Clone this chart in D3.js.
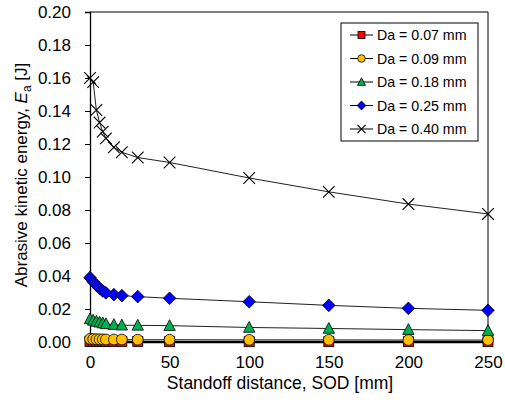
<!DOCTYPE html>
<html>
<head>
<meta charset="utf-8">
<script src="https://cdn.jsdelivr.net/npm/d3@7"></script>
<style>
html,body{margin:0;padding:0;background:#fff;}
svg{display:block;font-family:"Liberation Sans",Arial,sans-serif;}
</style>
</head>
<body>
<svg id="chart" width="505" height="403"></svg>
<script>
const sod = [0, 2, 4, 6, 8, 10, 15, 20, 30, 50, 100, 150, 200, 250];
const seriesNames = ["Da = 0.07 mm", "Da = 0.09 mm", "Da = 0.18 mm", "Da = 0.25 mm", "Da = 0.40 mm"];
const da007 = [0.0003, 0.0003, 0.0003, 0.0003, 0.0003, 0.0003, 0.0003, 0.0003, 0.0003, 0.0002, 0.0002, 0.0002, 0.0002, 0.0002];
const da009 = [0.0019, 0.0018, 0.0017, 0.0016, 0.0016, 0.0015, 0.0015, 0.0015, 0.0014, 0.0014, 0.0013, 0.0013, 0.0012, 0.0012];
const da018 = [0.0140, 0.0131, 0.0125, 0.0120, 0.0115, 0.0110, 0.0105, 0.0102, 0.0101, 0.0099, 0.0088, 0.0082, 0.0075, 0.0069];
const da025 = [0.0390, 0.0365, 0.0345, 0.0325, 0.0310, 0.0298, 0.0287, 0.0281, 0.0275, 0.0265, 0.0244, 0.0222, 0.0204, 0.0192];
const da040 = [0.1600, 0.1575, 0.1406, 0.1330, 0.1275, 0.1234, 0.1180, 0.1150, 0.1118, 0.1088, 0.0994, 0.0910, 0.0836, 0.0776];
const yTicks = [0.00, 0.02, 0.04, 0.06, 0.08, 0.10, 0.12, 0.14, 0.16, 0.18, 0.20];
const xTicks = [0, 50, 100, 150, 200, 250];

const seriesValues = [da007, da009, da018, da025, da040];
const fills = ["#FF0000", "#FFC000", "#00B050", "#0000FF", "none"];
const shapes = ["square", "circle", "triangle", "diamond", "x"];

const svg = d3.select("#chart");
const L = 90, R = 488, T = 12, B = 342;
const x = d3.scaleLinear().domain([0, 250]).range([L, R]);
const y = d3.scaleLinear().domain([0, 0.2]).range([B, T]);

// frame (top & right)
svg.append("line").attr("x1", L).attr("x2", R).attr("y1", T).attr("y2", T).attr("stroke", "#000").attr("stroke-width", 1);
svg.append("line").attr("x1", R).attr("x2", R).attr("y1", T).attr("y2", B).attr("stroke", "#000").attr("stroke-width", 1);

// y axis
const yAxis = d3.axisLeft(y).tickValues(yTicks).tickFormat(d3.format(".2f")).tickSize(5).tickPadding(14);
const gy = svg.append("g").attr("transform", `translate(${L},0)`).call(yAxis);
gy.select(".domain").attr("stroke", "#000").attr("stroke-width", 1.3);
gy.selectAll(".tick line").attr("stroke", "#000");
gy.selectAll("text").attr("font-size", 17).attr("fill", "#000").attr("font-family", "Liberation Sans, Arial, sans-serif");

// x axis
const xAxis = d3.axisBottom(x).tickValues(xTicks).tickFormat(d3.format("d")).tickSize(0).tickPadding(14);
const gx = svg.append("g").attr("transform", `translate(0,${B})`).call(xAxis);
gx.select(".domain").attr("stroke", "#000").attr("stroke-width", 1.3);
gx.selectAll("text").attr("font-size", 17).attr("fill", "#000").attr("font-family", "Liberation Sans, Arial, sans-serif");

// symbols
function drawMarker(g, shape, fill, cx, cy, scale) {
  const s = scale || 1;
  if (shape === "square") {
    const h = 5 * s;
    g.append("rect").attr("x", cx - h).attr("y", cy - h).attr("width", 2 * h).attr("height", 2 * h)
      .attr("fill", fill).attr("stroke", "#000").attr("stroke-width", 0.8);
  } else if (shape === "circle") {
    g.append("circle").attr("cx", cx).attr("cy", cy).attr("r", 5.4 * s)
      .attr("fill", fill).attr("stroke", "#000").attr("stroke-width", 0.8);
  } else if (shape === "triangle") {
    const h = 6 * s;
    g.append("path").attr("d", `M${cx},${cy - h}L${cx + h * 0.95},${cy + h * 0.8}L${cx - h * 0.95},${cy + h * 0.8}Z`)
      .attr("fill", fill).attr("stroke", "#000").attr("stroke-width", 0.8);
  } else if (shape === "diamond") {
    const h = 6.3 * s;
    g.append("path").attr("d", `M${cx},${cy - h}L${cx + h},${cy}L${cx},${cy + h}L${cx - h},${cy}Z`)
      .attr("fill", fill).attr("stroke", "#000").attr("stroke-width", 0.8);
  } else if (shape === "x") {
    const h = 5.8 * s;
    g.append("path").attr("d", `M${cx - h},${cy - h}L${cx + h},${cy + h}M${cx - h},${cy + h}L${cx + h},${cy - h}`)
      .attr("fill", "none").attr("stroke", "#000").attr("stroke-width", 1.1);
  }
}

const line = d3.line().x(d => x(d[0])).y(d => y(d[1]));
seriesValues.forEach((vals, i) => {
  const g = svg.append("g");
  const pts = sod.map((s, j) => [s, vals[j]]);
  g.append("path").attr("d", line(pts)).attr("fill", "none").attr("stroke", i === 0 ? "#000" : "#222").attr("stroke-width", i === 0 ? 1.6 : 1);
  pts.forEach(p => drawMarker(g, shapes[i], fills[i], x(p[0]), y(p[1]), 1));
});

// legend
const lg = svg.append("g");
lg.append("rect").attr("x", 341).attr("y", 23).attr("width", 137).attr("height", 118)
  .attr("fill", "#fff").attr("stroke", "#000").attr("stroke-width", 1);
seriesNames.forEach((name, i) => {
  const cy = 35 + i * 23.5;
  lg.append("line").attr("x1", 350).attr("x2", 373).attr("y1", cy).attr("y2", cy).attr("stroke", "#000").attr("stroke-width", 1);
  drawMarker(lg, shapes[i], fills[i], 361.5, cy, 0.7);
  lg.append("text").attr("x", 377).attr("y", cy + 5).attr("font-size", 14.2).attr("fill", "#000").text(name);
});

// axis titles
svg.append("text").attr("x", 280).attr("y", 389).attr("text-anchor", "middle").attr("font-size", 17.5).attr("fill", "#000")
  .text("Standoff distance, SOD [mm]");
const yt = svg.append("text").attr("transform", "translate(27,175) rotate(-90)").attr("text-anchor", "middle").attr("font-size", 17).attr("fill", "#000");
yt.append("tspan").text("Abrasive kinetic energy, ");
yt.append("tspan").attr("font-style", "italic").text("E");
yt.append("tspan").attr("font-size", 12).attr("dy", 4).text("a");
yt.append("tspan").attr("dy", -4).text(" [J]");
</script>
</body>
</html>
